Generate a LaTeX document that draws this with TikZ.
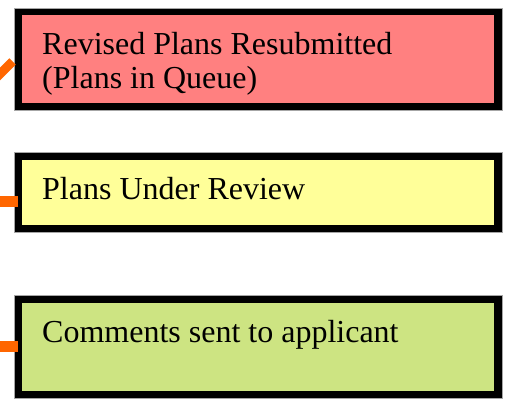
\documentclass[tikz,border=0pt]{standalone}
\usepackage{fontspec}
\setmainfont{Liberation Serif}
\definecolor{boxred}{RGB}{255,128,128}
\definecolor{boxyellow}{RGB}{255,255,153}
\definecolor{boxgreen}{RGB}{205,228,130}
\definecolor{conn}{RGB}{255,102,0}
\begin{document}
\begin{tikzpicture}[x=1pt,y=-1pt,
  box/.style={draw=black,line width=7.5pt,rectangle,inner sep=0pt,outer sep=0pt},
  edgeline/.style={draw=gray!70,line width=0.8pt},
  lbl/.style={anchor=base west,inner sep=0pt,font=\fontsize{32}{33.3}\selectfont,align=left},
  connector/.style={draw=conn,line width=11pt}]
\useasboundingbox (0,0) rectangle (507,403);
\clip (0,0) rectangle (507,403);
% boxes
\node[box,fill=boxred,minimum width=480.25pt,minimum height=95pt] (b1) at (257.875,59) {};
\node[box,fill=boxyellow,minimum width=480.25pt,minimum height=72.5pt] (b2) at (257.875,192.25) {};
\node[box,fill=boxgreen,minimum width=480.25pt,minimum height=96pt] (b3) at (257.875,347) {};
\draw[edgeline] (14,8) rectangle (502,110);
\draw[edgeline] (14,152) rectangle (502,232);
\draw[edgeline] (14,295) rectangle (502,398);
% texts
\node[lbl] (t1) at (42,88.3) {Revised Plans Resubmitted\\(Plans in Queue)};
\node[lbl] (t2) at (42,199.3) {Plans Under Review};
\node[lbl] (t3) at (42,343) {Comments sent to applicant};
% connectors
\coordinate (c1) at (-5,79);
\coordinate (e1) at (12.5,61.5);
\coordinate (c2) at (-5,202);
\coordinate (e2) at (17.5,202);
\coordinate (c3) at (-5,346.5);
\coordinate (e3) at (17.5,346.5);
\draw[connector,line width=9pt] (c1) -- (e1);
\draw[connector] (c2) -- (e2);
\draw[connector] (c3) -- (e3);
\end{tikzpicture}
\end{document}
